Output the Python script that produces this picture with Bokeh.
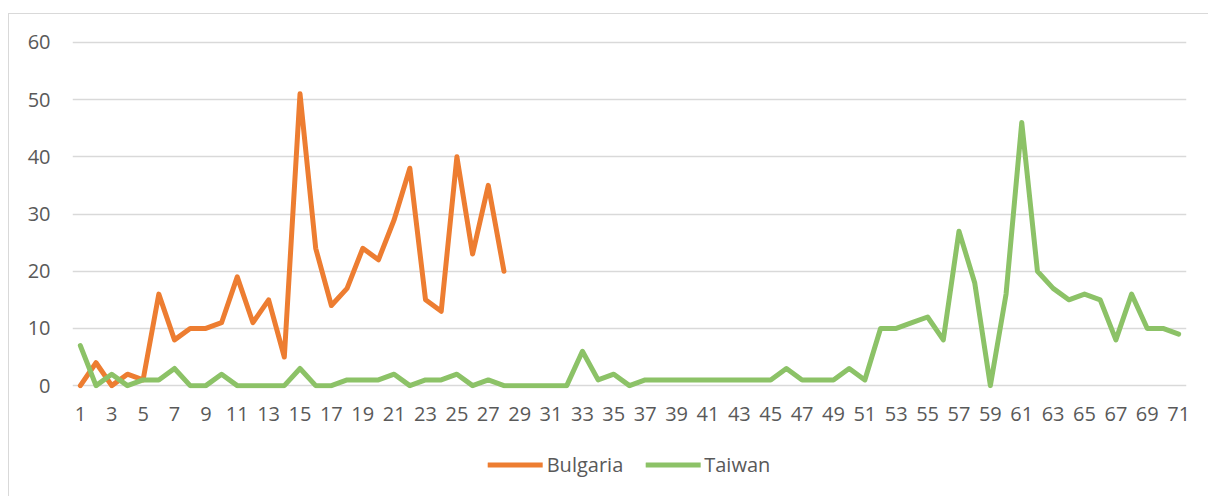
from bokeh.plotting import figure
from bokeh.layouts import column
from bokeh.models import Legend, LegendItem, FixedTicker, Range1d, InlineStyleSheet
from bokeh.embed import file_html
from bokeh.resources import INLINE

bulgaria_x = list(range(1, 29))
bulgaria = [0, 4, 0, 2, 1, 16, 8, 10, 10, 11, 19, 11, 15, 5, 51, 24, 14, 17, 24, 22,
            29, 38, 15, 13, 40, 23, 35, 20]

taiwan_x = list(range(1, 72))
taiwan = [7, 0, 2, 0, 1, 1, 3, 0, 0, 2, 0, 0, 0, 0, 3, 0, 0, 1, 1, 1,
          2, 0, 1, 1, 2, 0, 1, 0, 0, 0, 0, 0, 6, 1, 2, 0, 1, 1, 1, 1,
          1, 1, 1, 1, 1, 3, 1, 1, 1, 3, 1, 10, 10, 11, 12, 8, 27, 18, 0, 16,
          46, 20, 17, 15, 16, 15, 8, 16, 10, 10, 9]

series_names = ["Bulgaria", "Taiwan"]
x_ticks = list(range(1, 72, 2))
y_ticks = [0, 10, 20, 30, 40, 50, 60]

FONT = "Open Sans"
TXT = "#595959"
COLORS = ["#ED7D31", "#8CC267"]

p = figure(frame_width=1114, frame_height=349, output_backend="svg", toolbar_location=None,
           x_range=Range1d(0.5, 71.5), y_range=Range1d(-0.5, 60.5),
           min_border_left=72, min_border_right=22, min_border_top=39, min_border_bottom=40)
p.outline_line_color = None
p.stylesheets = [InlineStyleSheet(css=(
    ":host { position: relative; }"
    ":host::after { content: ''; position: absolute; left: 8px; top: 13px; right: 0; bottom: 0;"
    " border-left: 1px solid #d9d9d9; border-top: 1px solid #d9d9d9; pointer-events: none; }"
))]

p.line(bulgaria_x, bulgaria, line_color=COLORS[0], line_width=5, line_join="round", line_cap="round")
p.line(taiwan_x, taiwan, line_color=COLORS[1], line_width=5, line_join="round", line_cap="round")

p.xaxis.ticker = FixedTicker(ticks=x_ticks)
p.yaxis.ticker = FixedTicker(ticks=y_ticks)
p.xgrid.grid_line_color = None
p.ygrid.grid_line_color = "#d9d9d9"
p.ygrid.grid_line_width = 1.3

for ax in (p.xaxis, p.yaxis):
    ax.axis_line_color = None
    ax.major_tick_line_color = None
    ax.minor_tick_line_color = None
    ax.major_label_text_font = FONT
    ax.major_label_text_font_size = "20px"
    ax.major_label_text_color = TXT
p.xaxis.major_label_standoff = 12
p.yaxis.major_label_standoff = 16

# legend strip below the chart (series drawn out of its view, used only as legend keys)
p2 = figure(width=1208, height=68, output_backend="svg", toolbar_location=None,
            x_range=Range1d(0.5, 71.5), y_range=Range1d(1000, 1001),
            x_axis_type=None, y_axis_type=None,
            min_border_left=26, min_border_right=0, min_border_top=4, min_border_bottom=0)
p2.outline_line_color = None
p2.grid.visible = False
p2.stylesheets = [InlineStyleSheet(css=(
    ":host { position: relative; }"
    ":host::after { content: ''; position: absolute; left: 8px; top: 0; right: 0; bottom: 0;"
    " border-left: 1px solid #d9d9d9; pointer-events: none; }"
))]
l1 = p2.line(bulgaria_x, bulgaria, line_color=COLORS[0], line_width=5, line_cap="round")
l2 = p2.line(taiwan_x, taiwan, line_color=COLORS[1], line_width=5, line_cap="round")

legend = Legend(items=[LegendItem(label=series_names[0], renderers=[l1]),
                       LegendItem(label=series_names[1], renderers=[l2])],
                orientation="horizontal", location="center",
                glyph_width=55, glyph_height=20, label_standoff=4, spacing=22,
                label_text_font=FONT, label_text_font_size="20px", label_text_color=TXT,
                border_line_color=None, background_fill_alpha=0, margin=0, padding=0)
p2.add_layout(legend, "center")

layout = column(p, p2, spacing=0)
open("out.html", "w").write(file_html(layout, INLINE))
